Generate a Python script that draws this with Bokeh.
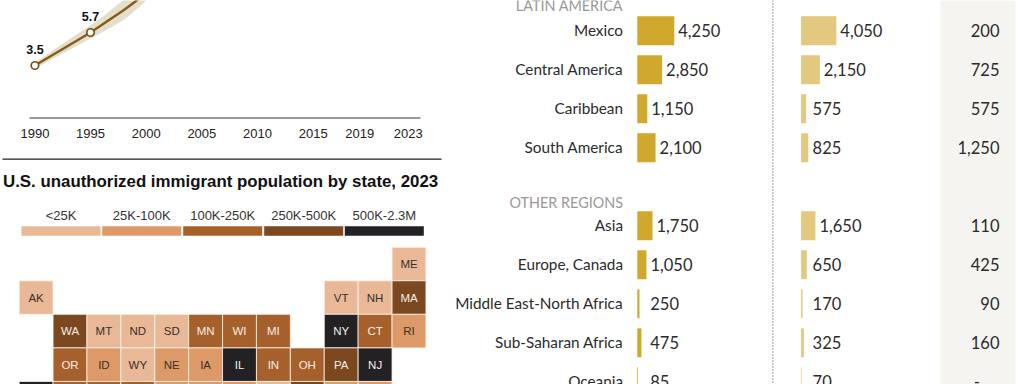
from bokeh.plotting import figure
from bokeh.models import Range1d
from bokeh.core.properties import value
from bokeh.embed import file_html
from bokeh.resources import INLINE

# ---- data ----
years = [1990, 1995, 1996, 1997, 1998, 1999, 2000]
unauth = [3.5, 5.7, 6.2, 6.7, 7.2, 7.75, 8.4]
upper = [3.7, 6.2, 6.7, 7.3, 7.9, 8.6, 9.4]
lower = [3.3, 5.3, 5.7, 6.1, 6.55, 7.15, 7.83]
marker_years = [1990, 1995]
marker_vals = [3.5, 5.7]
marker_text = ["3.5", "5.7"]
tick_years = [1990, 1995, 2000, 2005, 2010, 2015, 2019, 2023]
tick_shift = [0, 0, 0, 0, 0, 0, 2, 6]

regions = ["Mexico", "Central America", "Caribbean", "South America",
           "Asia", "Europe, Canada", "Middle East-North Africa", "Sub-Saharan Africa", "Oceania"]
region_row = [0, 1, 2, 3, 5, 6, 7, 8, 9]
total_vals = [4250, 2850, 1150, 2100, 1750, 1050, 250, 475, 85]
second_vals = [4050, 2150, 575, 825, 1650, 650, 170, 325, 70]
third_labels = ["200", "725", "575", "1,250", "110", "425", "90", "160", "-"]

legend_labels = ["<25K", "25K-100K", "100K-250K", "250K-500K", "500K-2.3M"]
bin_colors = ["#e9b997", "#dd9a68", "#a6602b", "#7b4820", "#232123"]
text_on_bin = ["#3a3028", "#3a3028", "#f6eee6", "#f6eee6", "#f0f0f0"]

states = ["ME", "AK", "VT", "NH", "MA",
          "WA", "MT", "ND", "SD", "MN", "WI", "MI", "NY", "CT", "RI",
          "OR", "ID", "WY", "NE", "IA", "IL", "IN", "OH", "PA", "NJ",
          "CA", "NV", "UT", "CO", "KS", "MO", "KY", "WV", "VA", "MD", "DE"]
state_col = [11, 0, 9, 10, 11,
             1, 2, 3, 4, 5, 6, 7, 9, 10, 11,
             1, 2, 3, 4, 5, 6, 7, 8, 9, 10,
             0, 1, 2, 3, 4, 5, 6, 7, 8, 9, 10]
state_row = [0, 1, 1, 1, 1,
             2, 2, 2, 2, 2, 2, 2, 2, 2, 2,
             3, 3, 3, 3, 3, 3, 3, 3, 3, 3,
             4, 4, 4, 4, 4, 4, 4, 4, 4, 4, 4]
state_bin = [0, 0, 0, 0, 3,
             3, 0, 0, 0, 2, 2, 2, 4, 2, 1,
             2, 1, 0, 1, 1, 4, 2, 2, 3, 4,
             4, 2, 2, 2, 1, 1, 1, 0, 3, 1, 1]

W, H = 1024, 384
SANS = "Liberation Sans"
NARROW = "Lato"

p = figure(width=W, height=H, x_range=Range1d(0, W), y_range=Range1d(H, 0),
           output_backend="svg", toolbar_location=None, min_border=0)
p.xaxis.visible = False
p.yaxis.visible = False
p.xgrid.visible = False
p.ygrid.visible = False
p.outline_line_color = None
p.background_fill_color = "white"

# scales of the three panels, all calibrated to the pixels of the frame
px_year = 11.13
x0_year = 34.4
p.extra_x_ranges["year"] = Range1d(1990 - x0_year / px_year, 1990 + (W - x0_year) / px_year)
px_mil = 15.0
y0_mil = 117.5
p.extra_y_ranges["mil"] = Range1d(-(H - y0_mil) / px_mil, y0_mil / px_mil)

px_k = 0.0087
p.extra_x_ranges["bar1"] = Range1d(-636.8 / px_k, (W - 636.8) / px_k)
p.extra_x_ranges["bar2"] = Range1d(-800.6 / px_k, (W - 800.6) / px_k)
row_h = 39.0
y0_row = 30.3
p.extra_y_ranges["row"] = Range1d((H - y0_row) / row_h, -y0_row / row_h)

tile_w = 33.9
tile_h = 33.56
x0_col = 35.6
y0_tile = 263.5
p.extra_x_ranges["col"] = Range1d(-x0_col / tile_w, (W - x0_col) / tile_w)
p.extra_y_ranges["trow"] = Range1d((H - y0_tile) / tile_h, -y0_tile / tile_h)

# ---- backgrounds, rules ----
p.quad(left=[940], right=[1015], top=[0], bottom=[H], fill_color="#f5f4f0", line_color=None)
p.segment([772.4], [0], [772.4], [H], line_color="#777777", line_width=1.5, line_dash="1 2")
p.segment([2], [158.6], [441], [158.6], line_color="#222222", line_width=1.3)

# ---- line chart ----
p.varea(x=years, y1=lower, y2=upper, x_range_name="year", y_range_name="mil",
        fill_color="#e2dfcc")
p.line(years, unauth, x_range_name="year", y_range_name="mil", line_color="#8a5a16", line_width=2.4)
p.scatter(marker_years, marker_vals, x_range_name="year", y_range_name="mil", size=7.5,
          fill_color="white", line_color="#7e5212", line_width=1.7)
p.text(marker_years, marker_vals, text=marker_text, x_range_name="year", y_range_name="mil",
       text_font=value(SANS), text_font_style="bold", text_font_size="12.5px", text_color="#111111",
       text_align="center", text_baseline="middle", y_offset=-16)
p.segment([29], [0], [420], [0], y_range_name="mil", line_color="#999999", line_width=2)
p.text(tick_years, [0] * len(tick_years), text=[str(y) for y in tick_years],
       x_offset=tick_shift, y_offset=15.5,
       x_range_name="year", y_range_name="mil", text_font=value(SANS), text_font_size="13px",
       text_color="#222222", text_align="center", text_baseline="middle")

# ---- tile map ----
p.text([2.5], [180.7], text=["U.S. unauthorized immigrant population by state, 2023"],
       text_font=value(SANS), text_font_style="bold", text_font_size="16.85px", text_color="#111111",
       text_baseline="middle")
leg_x = [21, 101.7, 182.7, 263.7, 344.3]
leg_w = 79
p.quad(left=leg_x, right=[x + leg_w for x in leg_x], top=[225.7] * 5, bottom=[235.3] * 5,
       fill_color=bin_colors, line_color=None)
p.text([x + leg_w / 2 for x in leg_x], [215] * 5, text=legend_labels, text_font=value(SANS),
       text_font_size="13px", text_color="#333333", text_align="center", text_baseline="middle")
p.rect(state_col, state_row, width=1, height=1, x_range_name="col", y_range_name="trow",
       fill_color=[bin_colors[b] for b in state_bin], line_color="#fff5ec", line_width=0.8)
vis = [i for i, r in enumerate(state_row) if r < 4]
p.text([state_col[i] for i in vis], [state_row[i] for i in vis], text=[states[i] for i in vis],
       x_range_name="col", y_range_name="trow", text_font=value(SANS), text_font_size="11.5px",
       text_color=[text_on_bin[state_bin[i]] for i in vis], text_align="center", text_baseline="middle")

# ---- bars ----
bar_h = 0.74
p.hbar(y=region_row, left=0, right=total_vals, height=bar_h, x_range_name="bar1", y_range_name="row",
       fill_color="#d1a82e", line_color=None)
p.hbar(y=region_row, left=0, right=second_vals, height=bar_h, x_range_name="bar2", y_range_name="row",
       fill_color="#e2c97f", line_color=None)
fmt = [f"{v:,}" for v in total_vals]
fmt2 = [f"{v:,}" for v in second_vals]
common = dict(text_font=value(NARROW), text_font_size="16.5px", text_color="#2b2b2b", text_baseline="middle")
p.text([622.5] * 9, region_row, text=regions, y_range_name="row", text_align="right",
       text_font=value(NARROW), text_font_size="15.3px", text_color="#2b2b2b", text_baseline="middle",
       y_offset=-0.5)
p.text([max(v, 1034) for v in total_vals], region_row, text=fmt, x_offset=4, x_range_name="bar1",
       y_range_name="row", **common)
p.text([max(v, 862) for v in second_vals], region_row, text=fmt2, x_offset=4, x_range_name="bar2",
       y_range_name="row", **common)
p.text([999] * 8 + [979.5], region_row, text=third_labels, y_range_name="row", text_align="right", **common)
p.text([622.5, 622.5], [5, 202], text=["LATIN AMERICA", "OTHER REGIONS"], text_align="right",
       text_font=value(NARROW), text_font_size="14.4px", text_color="#999999", text_baseline="middle")

open("out.html", "w").write(file_html(p, INLINE))
